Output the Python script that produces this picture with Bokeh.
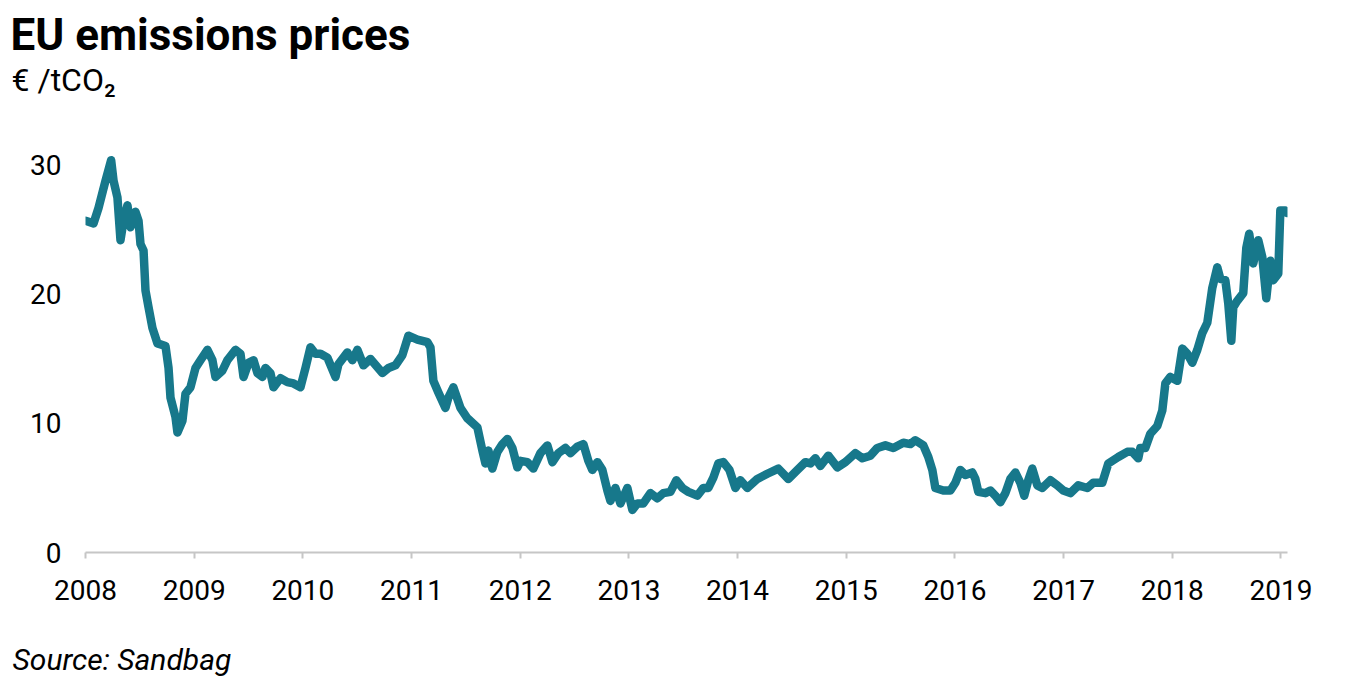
from bokeh.plotting import figure
from bokeh.models import Range1d, FixedTicker, CustomJSTickFormatter, Plot
from bokeh.layouts import column
from bokeh.core.properties import value
from bokeh.embed import file_html
from bokeh.resources import INLINE

# decimal years (2008.0 = 1 Jan 2008) and EUA price (EUR/tCO2)
years = [2008.000, 2008.074, 2008.120, 2008.184, 2008.236, 2008.258, 2008.294, 2008.322,
         2008.350, 2008.386, 2008.414, 2008.460, 2008.488, 2008.506, 2008.534, 2008.552,
         2008.580, 2008.616, 2008.662, 2008.736, 2008.764, 2008.782, 2008.828, 2008.846,
         2008.892, 2008.920, 2008.966, 2009.012, 2009.058, 2009.122, 2009.168, 2009.196,
         2009.260, 2009.306, 2009.380, 2009.426, 2009.454, 2009.500, 2009.546, 2009.582,
         2009.628, 2009.656, 2009.702, 2009.730, 2009.794, 2009.858, 2009.914, 2009.978,
         2010.024, 2010.070, 2010.116, 2010.162, 2010.226, 2010.300, 2010.328, 2010.410,
         2010.456, 2010.502, 2010.558, 2010.622, 2010.732, 2010.788, 2010.852, 2010.916,
         2010.971, 2011.054, 2011.146, 2011.174, 2011.201, 2011.247, 2011.312, 2011.339,
         2011.385, 2011.450, 2011.514, 2011.606, 2011.652, 2011.680, 2011.707, 2011.744,
         2011.790, 2011.836, 2011.882, 2011.928, 2011.974, 2012.002, 2012.066, 2012.121,
         2012.186, 2012.250, 2012.296, 2012.351, 2012.416, 2012.462, 2012.526, 2012.581,
         2012.627, 2012.664, 2012.710, 2012.756, 2012.802, 2012.830, 2012.876, 2012.922,
         2012.986, 2013.032, 2013.078, 2013.133, 2013.198, 2013.262, 2013.317, 2013.382,
         2013.437, 2013.492, 2013.547, 2013.630, 2013.685, 2013.731, 2013.777, 2013.823,
         2013.869, 2013.925, 2013.980, 2014.026, 2014.090, 2014.182, 2014.274, 2014.375,
         2014.467, 2014.550, 2014.624, 2014.670, 2014.716, 2014.762, 2014.835, 2014.918,
         2014.992, 2015.084, 2015.148, 2015.222, 2015.286, 2015.360, 2015.433, 2015.525,
         2015.590, 2015.636, 2015.709, 2015.755, 2015.792, 2015.820, 2015.893, 2015.958,
         2016.004, 2016.050, 2016.096, 2016.160, 2016.188, 2016.215, 2016.280, 2016.326,
         2016.372, 2016.418, 2016.464, 2016.510, 2016.556, 2016.602, 2016.638, 2016.675,
         2016.712, 2016.758, 2016.804, 2016.878, 2016.942, 2016.997, 2017.062, 2017.135,
         2017.218, 2017.273, 2017.356, 2017.411, 2017.503, 2017.586, 2017.632, 2017.687,
         2017.706, 2017.752, 2017.798, 2017.862, 2017.908, 2017.936, 2017.982, 2018.046,
         2018.092, 2018.138, 2018.184, 2018.230, 2018.276, 2018.322, 2018.368, 2018.414,
         2018.442, 2018.488, 2018.515, 2018.543, 2018.561, 2018.598, 2018.653, 2018.681,
         2018.708, 2018.745, 2018.791, 2018.828, 2018.865, 2018.902, 2018.929, 2018.975,
         2018.994, 2019.040, 2019.058]
prices = [25.7, 25.5, 26.7, 28.8, 30.4, 28.8, 27.5, 24.2,
          25.7, 26.9, 25.2, 26.4, 25.7, 23.9, 23.4, 20.3,
          19.0, 17.4, 16.2, 16.0, 14.3, 12.0, 10.5, 9.3,
          10.2, 12.3, 12.8, 14.3, 14.9, 15.7, 14.9, 13.6,
          14.1, 14.9, 15.7, 15.4, 13.6, 14.7, 14.9, 13.9,
          13.6, 14.3, 13.9, 12.8, 13.5, 13.2, 13.1, 12.8,
          14.3, 15.9, 15.4, 15.4, 15.1, 13.6, 14.6, 15.5,
          14.9, 15.7, 14.5, 15.0, 13.9, 14.3, 14.5, 15.3,
          16.8, 16.5, 16.3, 15.9, 13.3, 12.4, 11.2, 12.0,
          12.8, 11.2, 10.4, 9.7, 7.9, 6.9, 7.9, 6.5,
          7.8, 8.4, 8.8, 8.1, 6.6, 7.1, 7.0, 6.5,
          7.7, 8.3, 7.0, 7.7, 8.1, 7.7, 8.2, 8.4,
          7.1, 6.4, 7.0, 6.4, 4.8, 4.0, 5.0, 3.8,
          5.0, 3.3, 3.8, 3.8, 4.6, 4.2, 4.6, 4.7,
          5.6, 5.0, 4.7, 4.4, 5.0, 5.0, 5.8, 6.9,
          7.0, 6.4, 5.0, 5.6, 5.0, 5.7, 6.1, 6.5,
          5.7, 6.4, 7.0, 6.9, 7.3, 6.7, 7.5, 6.6,
          7.0, 7.7, 7.3, 7.5, 8.1, 8.3, 8.1, 8.5,
          8.4, 8.7, 8.3, 7.4, 6.4, 5.0, 4.8, 4.8,
          5.4, 6.4, 6.0, 6.2, 5.7, 4.7, 4.6, 4.8,
          4.4, 3.9, 4.6, 5.7, 6.2, 5.4, 4.4, 5.6,
          6.5, 5.2, 5.0, 5.6, 5.2, 4.8, 4.6, 5.2,
          5.0, 5.4, 5.4, 6.9, 7.4, 7.8, 7.8, 7.3,
          8.1, 8.1, 9.2, 9.8, 11.0, 13.1, 13.6, 13.3,
          15.8, 15.4, 14.7, 15.7, 17.0, 17.8, 20.5, 22.1,
          21.2, 21.1, 19.3, 16.4, 19.0, 19.5, 20.1, 23.6,
          24.7, 22.4, 24.2, 22.9, 19.7, 22.6, 21.1, 21.6,
          26.5, 26.5, 26.3]

x_ticks = list(range(2008, 2020))
y_ticks = [0, 10, 20, 30]

title_text = "EU emissions prices"
subtitle_text = "€ /tCO₂"
source_text = "Source: Sandbag"

FONT = "Roboto"
W = 1347
HEAD_H = 120
FOOT_H = 40
MAIN_H = 677 - HEAD_H - FOOT_H
HAS_FRAME_ALIGN = "frame_align" in Plot.properties()


def text_strip(height):
    f = figure(width=W, height=height, output_backend="svg", toolbar_location=None,
               x_range=Range1d(0, W), y_range=Range1d(0, height),
               x_axis_location=None, y_axis_location=None, min_border=0)
    f.outline_line_color = None
    f.xgrid.grid_line_color = None
    f.ygrid.grid_line_color = None
    if HAS_FRAME_ALIGN:
        f.frame_align = False
    return f


# header: title and unit
head = text_strip(HEAD_H)
head.text(x=[10], y=[86], text=[title_text], text_font=value(FONT),
          text_font_style="bold", text_font_size="44px", text_color="black",
          text_baseline="alphabetic", text_align="left")
head.text(x=[11], y=[41], text=[subtitle_text], text_font=value(FONT),
          text_font_size="32px", text_color="black",
          text_baseline="alphabetic", text_align="left")

# main chart
p = figure(width=W, height=MAIN_H, output_backend="svg", toolbar_location=None,
           x_range=Range1d(2008, 2019.06), y_range=Range1d(0, 32),
           min_border_left=85, min_border_right=60, min_border_top=19,
           min_border_bottom=85)
p.outline_line_color = None
p.xgrid.grid_line_color = None
p.ygrid.grid_line_color = None
p.background_fill_color = "white"
if HAS_FRAME_ALIGN:
    p.frame_align = False

p.line(years, prices, line_color="#17788b", line_width=8.5, line_join="round",
       line_cap="round")

xa = p.xaxis[0]
xa.ticker = FixedTicker(ticks=x_ticks)
xa.formatter = CustomJSTickFormatter(code="return Math.round(tick).toString();")
xa.axis_line_color = "#c6c6c6"
xa.axis_line_width = 2
xa.major_tick_line_color = "#c6c6c6"
xa.major_tick_line_width = 2
xa.major_tick_in = 0
xa.major_tick_out = 6
xa.minor_tick_line_color = None
xa.major_label_standoff = 21
xa.major_label_text_font = FONT
xa.major_label_text_font_size = "28px"
xa.major_label_text_color = "black"

ya = p.yaxis[0]
ya.ticker = FixedTicker(ticks=y_ticks)
ya.axis_line_color = None
ya.major_tick_line_color = None
ya.minor_tick_line_color = None
ya.major_label_standoff = 18
ya.major_label_text_font = FONT
ya.major_label_text_font_size = "28px"
ya.major_label_text_color = "black"

# footer: source
foot = text_strip(FOOT_H)
foot.text(x=[12], y=[18], text=[source_text], text_font=value(FONT),
          text_font_style="italic", text_font_size="30px", text_color="black",
          text_baseline="alphabetic", text_align="left")

layout = column(head, p, foot, spacing=0)
open("out.html", "w").write(file_html(layout, INLINE))
